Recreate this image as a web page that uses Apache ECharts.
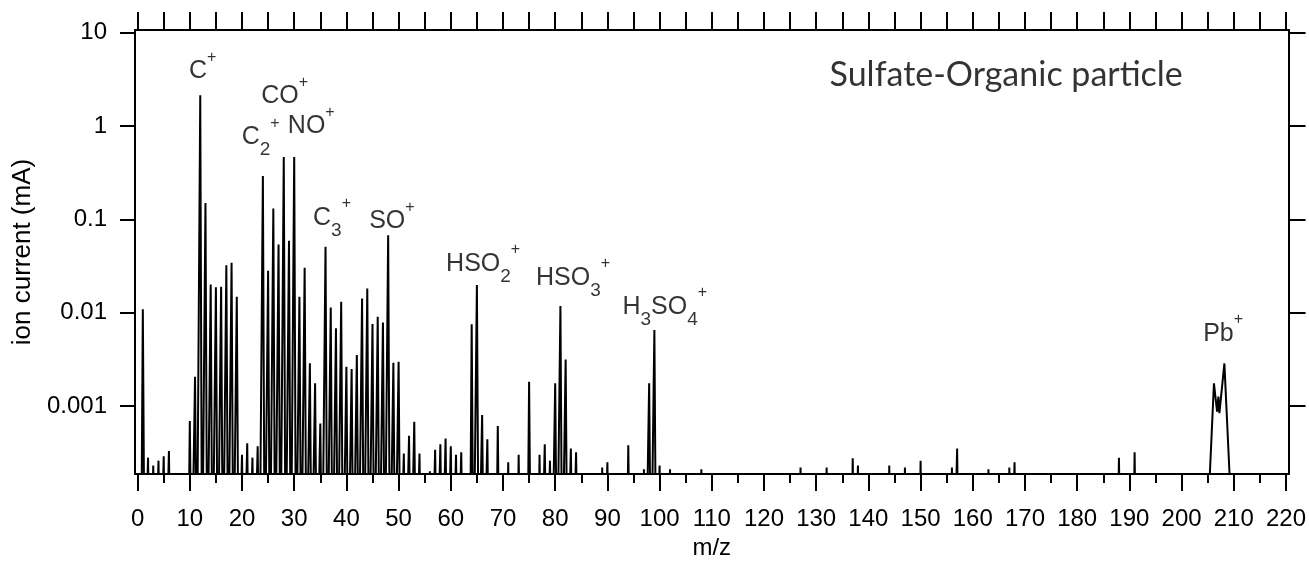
<!DOCTYPE html>
<html><head><meta charset="utf-8">
<script src="https://cdn.jsdelivr.net/npm/echarts@6/dist/echarts.min.js"></script>
<style>html,body{margin:0;padding:0;background:#fff}#c{width:1309px;height:568px}</style>
</head><body><div id="c"></div>
<script>
// ---- data ----
const peakMz = [1,2,3,4,5,6,10,11,12,13,14,15,16,17,18,19,20,21,22,23,24,25,26,27,28,29,30,31,32,33,34,35,36,37,38,39,40,41,42,43,44,45,46,47,48,49,50,51,52,53,54,56,57,58,59,60,61,62,64,65,66,67,69,71,73,75,77,78,79,80,81,82,83,84,89,90,94,97,98,99,100,102,108,127,132,137,138,144,147,150,156,157,163,167,168,188,191];
const peakIon = [0.0109,2.8e-4,2.3e-4,2.6e-4,2.9e-4,3.3e-4,6.9e-4,0.00206,2.14,0.15,0.0201,0.0187,0.019,0.0323,0.0342,0.0148,3.0e-4,4.0e-4,2.8e-4,3.7e-4,0.292,0.0281,0.131,0.0538,0.467,0.0589,0.467,0.0148,0.0303,0.00287,0.00175,6.5e-4,0.0508,0.0114,0.0068,0.0131,0.00264,0.0025,0.00352,0.0142,0.0182,0.00755,0.00904,0.00787,0.0678,0.00291,0.00298,3.1e-4,4.8e-4,6.8e-4,3.1e-4,2.0e-4,3.4e-4,3.9e-4,4.5e-4,3.7e-4,3.0e-4,3.2e-4,0.0075,0.0198,8.0e-4,4.4e-4,6.1e-4,2.5e-4,3.0e-4,0.00182,3.0e-4,3.9e-4,2.6e-4,0.00175,0.0118,0.00316,3.5e-4,3.2e-4,2.2e-4,2.5e-4,3.8e-4,2.1e-4,0.00175,0.00651,2.3e-4,2.1e-4,2.1e-4,2.2e-4,2.2e-4,2.75e-4,2.3e-4,2.3e-4,2.2e-4,2.6e-4,2.2e-4,3.5e-4,2.1e-4,2.2e-4,2.5e-4,2.8e-4,3.2e-4];
// lead isotope cluster, drawn as a continuous profile
const pbMz  = [205.4, 206.2, 206.8, 207.05, 207.25, 208.2, 209.2];
const pbIon = [1.8e-4, 0.00175, 8.7e-4, 0.00126, 8.4e-4, 0.00286, 1.8e-4];

const xMajorTicks = [0,10,20,30,40,50,60,70,80,90,100,110,120,130,140,150,160,170,180,190,200,210,220];
const xMinorTicks = [5,15,25,35,45,55,65,75,85,95,105,115,125,135,145,155,165,175,185,195,205,215];
const xTopTicks = [0,5,10,15,20,25,30,35,40,45,50,55,60,65,70,75,80,85,90,95,100,105,110,115,120,125,130,135,140,145,150,155,160,165,170,175,180,185,190,195,200,205,210,215,220];
const yTickValues = [0.001, 0.01, 0.1, 1, 10];

const annoText = ['C^{+}','C_{2}^{+}','CO^{+}','NO^{+}','C_{3}^{+}','SO^{+}','HSO_{2}^{+}','HSO_{3}^{+}','H_{3}SO_{4}^{+}','Pb^{+}'];
const annoMz   = [12.47, 23.58, 28.16, 33.27, 37.25, 48.72, 66.2, 83.42, 100.98, 207.96];
const annoIon  = [3.86, 0.759, 2.07, 0.995, 0.104, 0.0957, 0.0334, 0.0235, 0.01156, 0.00594];

const panelTitle = 'Sulfate-Organic particle';
const panelTitleMz = 166.4;
const panelTitleIon = 3.5;

const xName = 'm/z';
const yName = 'ion current (mA)';

// ---- build ----
const BASE = 1e-5;      // baseline well below the axis minimum (clipped)
const HALF = 0.35;      // half width of a peak
const spectrum = [];
peakMz.forEach((m, i) => {
  spectrum.push([m - HALF, BASE], [m, peakIon[i]], [m + HALF, BASE]);
});
pbMz.forEach((m, i) => spectrum.push([m, pbIon[i]]));

const FONT = "'Liberation Sans',Arial,sans-serif";

function toRich(s) {
  const parts = s.split(/(_\{[^}]*\}|\^\{[^}]*\})/).filter(p => p.length);
  return parts.map(p => {
    if (p[0] === '_') return '{sub|' + p.slice(2, -1) + '}';
    if (p[0] === '^') return '{sup|' + p.slice(2, -1) + '}';
    return '{m|' + p + '}';
  }).join('');
}

const chart = echarts.init(document.getElementById('c'), null, {renderer: 'canvas'});
const axisLine = {show: true, onZero: false, lineStyle: {color: '#000', width: 2}};
const YMIN = 1.87e-4, YMAX = 10.7, XMIN = -0.5, XMAX = 220.5;

chart.setOption({
  animation: false,
  backgroundColor: '#fff',
  grid: {left: 135, right: 18, top: 30, bottom: 94, containLabel: false},
  xAxis: [
    {type: 'value', position: 'bottom', min: XMIN, max: XMAX,
     axisLine: axisLine,
     axisTick: {show: true, customValues: xMajorTicks, length: 17, lineStyle: {color: '#000', width: 2}},
     axisLabel: {show: true, customValues: xMajorTicks, margin: 33, color: '#000', fontSize: 24, fontFamily: FONT},
     splitLine: {show: false},
     name: xName, nameLocation: 'middle', nameGap: 62,
     nameTextStyle: {color: '#000', fontSize: 24, fontFamily: FONT}},
    {type: 'value', position: 'bottom', min: XMIN, max: XMAX,
     axisLine: {show: false},
     axisTick: {show: true, customValues: xMinorTicks, length: 9, lineStyle: {color: '#000', width: 2}},
     axisLabel: {show: false}, splitLine: {show: false}},
    {type: 'value', position: 'top', min: XMIN, max: XMAX,
     axisLine: axisLine,
     axisTick: {show: true, customValues: xTopTicks, length: 18, lineStyle: {color: '#000', width: 2}},
     axisLabel: {show: false}, splitLine: {show: false}}
  ],
  yAxis: [
    {type: 'log', logBase: 10, position: 'left', min: YMIN, max: YMAX,
     axisLine: axisLine,
     axisTick: {show: true, customValues: yTickValues, length: 15, lineStyle: {color: '#000', width: 2}},
     axisLabel: {show: true, customValues: yTickValues, margin: 28, color: '#000', fontSize: 24, fontFamily: FONT,
                 formatter: v => String(+v.toPrecision(6))},
     minorTick: {show: false}, splitLine: {show: false},
     name: yName, nameLocation: 'middle', nameGap: 95,
     nameTextStyle: {color: '#000', fontSize: 26, fontFamily: FONT}},
    {type: 'log', logBase: 10, position: 'right', min: YMIN, max: YMAX,
     axisLine: axisLine,
     axisTick: {show: true, customValues: yTickValues, length: 17, lineStyle: {color: '#000', width: 2}},
     axisLabel: {show: false}, minorTick: {show: false}, splitLine: {show: false}}
  ],
  series: [
    {type: 'line', xAxisIndex: 0, yAxisIndex: 0, data: spectrum, symbol: 'none', clip: true,
     lineStyle: {color: '#000', width: 2}, silent: true},
    {type: 'scatter', xAxisIndex: 0, yAxisIndex: 0, symbolSize: 1, itemStyle: {color: 'rgba(0,0,0,0)'},
     data: annoMz.map((m, i) => [m, annoIon[i]]),
     label: {show: true, position: 'inside', color: '#000',
       formatter: p => toRich(annoText[p.dataIndex]),
       rich: {
         m:   {fontSize: 25, fontFamily: FONT, color: '#000', lineHeight: 44, verticalAlign: 'middle'},
         sub: {fontSize: 19, fontFamily: FONT, color: '#000', lineHeight: 26, verticalAlign: 'bottom'},
         sup: {fontSize: 16, fontFamily: FONT, color: '#000', lineHeight: 14, verticalAlign: 'top'}
       }}},
    {type: 'scatter', xAxisIndex: 0, yAxisIndex: 0, symbolSize: 1, itemStyle: {color: 'rgba(0,0,0,0)'},
     data: [[panelTitleMz, panelTitleIon]],
     label: {show: true, position: 'inside', color: '#000', formatter: panelTitle,
       fontSize: 34, fontFamily: "Lato,'Open Sans',sans-serif"}}
  ]
});
</script></body></html>
